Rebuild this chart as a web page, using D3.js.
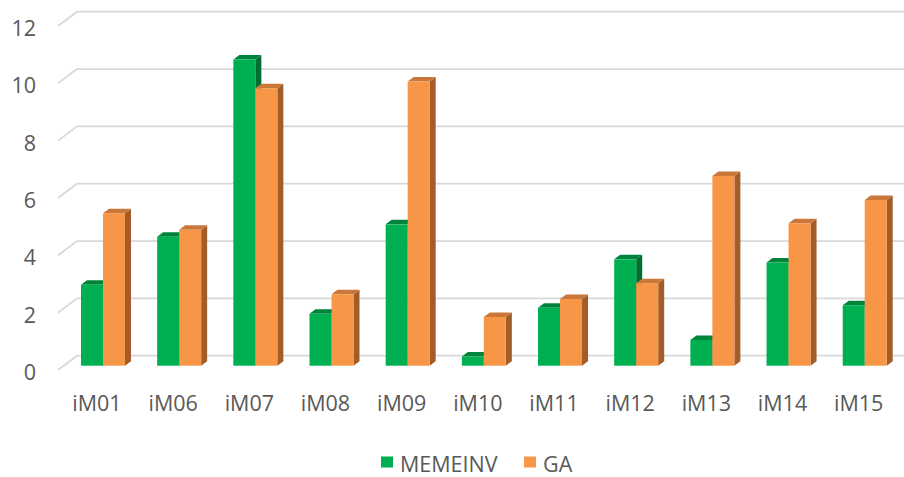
<!DOCTYPE html>
<html>
<head>
<meta charset="utf-8">
<script src="https://cdn.jsdelivr.net/npm/d3@7"></script>
<style>
  html, body { margin: 0; padding: 0; background: #ffffff; }
  svg { display: block; }
  text { font-family: "Open Sans", "Liberation Sans", sans-serif; fill: #595959; }
</style>
</head>
<body>
<svg id="chart" width="904" height="477"></svg>
<script>
// Categories, series and values
const categories = ["iM01", "iM06", "iM07", "iM08", "iM09", "iM10", "iM11", "iM12", "iM13", "iM14", "iM15"];
const seriesNames = ["MEMEINV", "GA"];
const memeinv = [2.82, 4.50, 10.68, 1.81, 4.93, 0.32, 2.02, 3.71, 0.90, 3.60, 2.11];
const ga      = [5.32, 4.74, 9.68, 2.49, 9.91, 1.70, 2.33, 2.88, 6.62, 4.97, 5.78];
const yTicks  = [0, 2, 4, 6, 8, 10, 12];

const colors = {
  MEMEINV: { front: "#00b050", top: "#00843b", side: "#006e30" },
  GA:      { front: "#f79646", top: "#c9773a", side: "#a35d28" }
};

const svg = d3.select("#chart");

// Pseudo-3D geometry: floor depth offset and bar depth offset
const floorDx = 19, floorDy = -14.3;   // front edge -> back wall
const barFrontDx = 0, barFrontDy = -4.3; // front edge -> bar front face
const barDx = 6, barDy = -4.5;          // bar front face -> bar back face

// Value scale on the front edge of the floor
const y = d3.scaleLinear().domain([0, 12]).range([370, 26]);

// Category bands and series sub-bands
const x = d3.scaleBand().domain(categories).range([64.9, 902.8])
  .paddingInner(0.4223).paddingOuter(0.2111);
const xs = d3.scaleBand().domain(seriesNames).range([0, x.bandwidth()]);

// Back-wall gridlines with the diagonal floor-side segment
const grid = svg.append("g");
yTicks.forEach(t => {
  const yf = y(t);
  grid.append("path")
    .attr("d", `M58,${yf} L${58 + floorDx},${yf + floorDy} L904,${yf + floorDy}`)
    .attr("fill", "none")
    .attr("stroke", "#d9d9d9")
    .attr("stroke-width", 1.8);
});

// Y axis labels
svg.append("g").selectAll("text").data(yTicks).join("text")
  .attr("x", 36)
  .attr("y", d => y(d) + 1.5)
  .attr("text-anchor", "end")
  .attr("dominant-baseline", "central")
  .style("font-size", "21.5px")
  .text(d => d);

// Bars
const data = categories.map((c, i) => ({ cat: c, vals: [memeinv[i], ga[i]] }));
const bars = svg.append("g");
data.forEach(d => {
  seriesNames.forEach((s, si) => {
    const v = d.vals[si];
    const col = colors[s];
    const x0 = x(d.cat) + xs(s);
    const x1 = x0 + xs.bandwidth();
    const yb = y(0) + barFrontDy;
    const yt = y(v) + barFrontDy;
    const g = bars.append("g");
    // right side face
    g.append("path")
      .attr("d", `M${x1},${yt} L${x1 + barDx},${yt + barDy} L${x1 + barDx},${yb + barDy} L${x1},${yb} Z`)
      .attr("fill", col.side);
    // top face
    g.append("path")
      .attr("d", `M${x0},${yt} L${x0 + barDx},${yt + barDy} L${x1 + barDx},${yt + barDy} L${x1},${yt} Z`)
      .attr("fill", col.top);
    // front face
    g.append("rect")
      .attr("x", x0).attr("y", yt)
      .attr("width", x1 - x0).attr("height", yb - yt)
      .attr("fill", col.front);
  });
});

// Category labels
svg.append("g").selectAll("text").data(categories).join("text")
  .attr("x", d => x(d) + x.bandwidth() / 2 - 6)
  .attr("y", 402)
  .attr("text-anchor", "middle")
  .attr("dominant-baseline", "central")
  .style("font-size", "21.5px")
  .text(d => d);

// Legend
const legendItems = [
  { name: "MEMEINV", x: 381 },
  { name: "GA", x: 524 }
];
const legend = svg.append("g");
legendItems.forEach(it => {
  legend.append("rect")
    .attr("x", it.x).attr("y", 456.5)
    .attr("width", 12).attr("height", 11)
    .attr("fill", colors[it.name].front);
  legend.append("text")
    .attr("x", it.x + 19).attr("y", 463)
    .attr("dominant-baseline", "central")
    .style("font-size", "21.5px")
    .text(it.name);
});
</script>
</body>
</html>
